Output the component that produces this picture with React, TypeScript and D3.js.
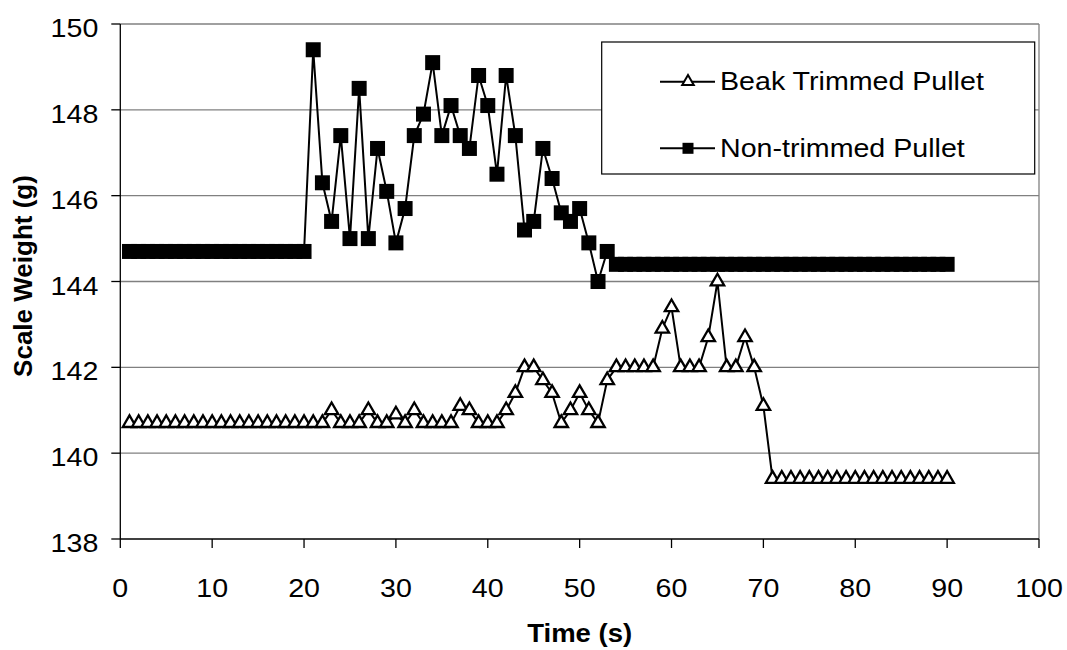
import React from "react";
import * as d3 from "d3";

const timeTicks = [0, 10, 20, 30, 40, 50, 60, 70, 80, 90, 100];
const weightTicks = [138, 140, 142, 144, 146, 148, 150];

const seriesNames = ["Beak Trimmed Pullet", "Non-trimmed Pullet"];

const beakTrimmed = [
  140.7, 140.7, 140.7, 140.7, 140.7, 140.7, 140.7, 140.7, 140.7, 140.7,
  140.7, 140.7, 140.7, 140.7, 140.7, 140.7, 140.7, 140.7, 140.7, 140.7,
  140.7, 140.7, 141.0, 140.7, 140.7, 140.7, 141.0, 140.7, 140.7, 140.9,
  140.7, 141.0, 140.7, 140.7, 140.7, 140.7, 141.1, 141.0, 140.7, 140.7,
  140.7, 141.0, 141.4, 142.0, 142.0, 141.7, 141.4, 140.7, 141.0, 141.4,
  141.0, 140.7, 141.7, 142.0, 142.0, 142.0, 142.0, 142.0, 142.9, 143.4,
  142.0, 142.0, 142.0, 142.7, 144.0, 142.0, 142.0, 142.7, 142.0, 141.1,
  139.4, 139.4, 139.4, 139.4, 139.4, 139.4, 139.4, 139.4, 139.4, 139.4,
  139.4, 139.4, 139.4, 139.4, 139.4, 139.4, 139.4, 139.4, 139.4, 139.4,
];

const nonTrimmed = [
  144.7, 144.7, 144.7, 144.7, 144.7, 144.7, 144.7, 144.7, 144.7, 144.7,
  144.7, 144.7, 144.7, 144.7, 144.7, 144.7, 144.7, 144.7, 144.7, 144.7,
  149.4, 146.3, 145.4, 147.4, 145.0, 148.5, 145.0, 147.1, 146.1, 144.9,
  145.7, 147.4, 147.9, 149.1, 147.4, 148.1, 147.4, 147.1, 148.8, 148.1,
  146.5, 148.8, 147.4, 145.2, 145.4, 147.1, 146.4, 145.6, 145.4, 145.7,
  144.9, 144.0, 144.7, 144.4, 144.4, 144.4, 144.4, 144.4, 144.4, 144.4,
  144.4, 144.4, 144.4, 144.4, 144.4, 144.4, 144.4, 144.4, 144.4, 144.4,
  144.4, 144.4, 144.4, 144.4, 144.4, 144.4, 144.4, 144.4, 144.4, 144.4,
  144.4, 144.4, 144.4, 144.4, 144.4, 144.4, 144.4, 144.4, 144.4, 144.4,
];

const W = 1067;
const H = 650;
const L = 120.3;
const R = 1039;
const T = 24;
const B = 539;
const FONT = "Arial, 'Liberation Sans', sans-serif";
const SX = 1.1;

export default function App() {
  const x = d3.scaleLinear().domain([0, 100]).range([L, R]);
  const y = d3.scaleLinear().domain([138, 150]).range([B, T]);

  const toPts = (arr: number[]) => arr.map((v, i) => [i + 1, v] as [number, number]);
  const line = d3
    .line<[number, number]>()
    .x((d) => x(d[0]))
    .y((d) => y(d[1]));

  const tri = d3.symbol().type(d3.symbolTriangle).size(78)()!;
  const sq = d3.symbol().type(d3.symbolSquare).size(225)()!;
  const triLeg = d3.symbol().type(d3.symbolTriangle).size(58)()!;
  const sqLeg = d3.symbol().type(d3.symbolSquare).size(121)()!;

  const beakPts = toPts(beakTrimmed);
  const nonPts = toPts(nonTrimmed);

  return (
    <svg
      width={W}
      height={H}
      style={{ position: "absolute", left: 0, top: 0, background: "#fff" }}
      fontFamily={FONT}
    >
      <rect x={0} y={0} width={W} height={H} fill="#fff" />
      {/* gridlines */}
      {weightTicks.slice(1).map((t) => (
        <line key={t} x1={L} x2={R} y1={y(t)} y2={y(t)} stroke="#808080" strokeWidth={1.3} />
      ))}
      <line x1={R} x2={R} y1={T} y2={B} stroke="#808080" strokeWidth={1.3} />
      {/* axes */}
      <line x1={L} x2={L} y1={T} y2={B} stroke="#000" strokeWidth={1.3} />
      <line x1={L} x2={R} y1={B} y2={B} stroke="#000" strokeWidth={1.3} />
      {weightTicks.map((t) => (
        <g key={t}>
          <line x1={L - 9} x2={L} y1={y(t)} y2={y(t)} stroke="#000" strokeWidth={1.3} />
          <text
            transform={`translate(${L - 22},${y(t) + 13}) scale(${SX},1)`}
            textAnchor="end"
            fontSize={26}
            fill="#000"
          >
            {t}
          </text>
        </g>
      ))}
      {timeTicks.map((t) => (
        <g key={t}>
          <line x1={x(t)} x2={x(t)} y1={B} y2={B + 9} stroke="#000" strokeWidth={1.3} />
          <text
            transform={`translate(${x(t)},${597}) scale(${SX},1)`}
            textAnchor="middle"
            fontSize={26}
            fill="#000"
          >
            {t}
          </text>
        </g>
      ))}
      <text
        transform={`translate(${(L + R) / 2},${642}) scale(${SX},1)`}
        textAnchor="middle"
        fontSize={25}
        fontWeight="bold"
      >
        Time (s)
      </text>
      <text
        transform={`translate(${32},${276}) rotate(-90)`}
        textAnchor="middle"
        fontSize={26}
        fontWeight="bold"
      >
        Scale Weight (g)
      </text>

      {/* series */}
      <path d={line(beakPts)!} fill="none" stroke="#000" strokeWidth={2} />
      <path d={line(nonPts)!} fill="none" stroke="#000" strokeWidth={2} />
      {beakPts.map((p, i) => (
        <path
          key={"b" + i}
          d={tri}
          transform={`translate(${x(p[0])},${y(p[1])})`}
          fill="#fff"
          stroke="#000"
          strokeWidth={2.3}
        />
      ))}
      {nonPts.map((p, i) => (
        <path key={"n" + i} d={sq} transform={`translate(${x(p[0])},${y(p[1])})`} fill="#000" />
      ))}

      {/* legend */}
      <rect x={601.7} y={42} width={433} height={132} fill="#fff" stroke="#000" strokeWidth={1.2} />
      <line x1={660} x2={715} y1={81.7} y2={81.7} stroke="#000" strokeWidth={2} />
      <path d={triLeg} transform="translate(688,81.7)" fill="#fff" stroke="#000" strokeWidth={2} />
      <text transform={`translate(720,90) scale(${SX},1)`} fontSize={26}>
        {seriesNames[0]}
      </text>
      <line x1={660} x2={715} y1={148.3} y2={148.3} stroke="#000" strokeWidth={2} />
      <path d={sqLeg} transform="translate(688,148.3)" fill="#000" />
      <text transform={`translate(720,157) scale(${SX},1)`} fontSize={26}>
        {seriesNames[1]}
      </text>
    </svg>
  );
}
